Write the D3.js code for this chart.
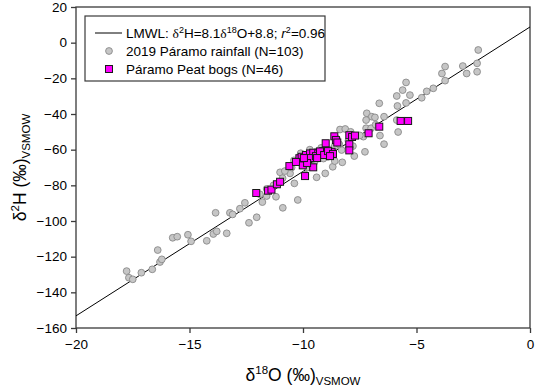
<!DOCTYPE html>
<html>
<head>
<meta charset="utf-8">
<script src="https://cdn.jsdelivr.net/npm/d3@7/dist/d3.min.js"></script>
<style>
  body { margin: 0; background: #fff; }
  text { font-family: Arial, "Liberation Sans", sans-serif; fill: #000; }
</style>
</head>
<body>
<svg id="chart"></svg>
<script>
// 2019 Paramo rainfall samples [d18O, d2H]
const rainfall = [
  [-17.77, -128.1], [-17.67, -131.8], [-17.50, -132.7], [-17.12, -129.0], [-16.64, -127.1],
  [-16.40, -116.3], [-16.30, -123.0], [-16.22, -121.5], [-15.74, -109.4], [-15.54, -108.8],
  [-15.07, -107.7], [-14.93, -111.4], [-14.24, -111.1], [-13.95, -107.3], [-13.80, -105.8],
  [-13.85, -95.4], [-13.36, -106.9], [-13.22, -95.4], [-13.10, -96.3], [-12.78, -93.1],
  [-12.56, -89.8], [-12.38, -101.0], [-12.04, -97.9], [-11.79, -89.4], [-11.60, -86.0],
  [-11.19, -86.4], [-11.01, -72.7], [-10.89, -92.6], [-10.57, -73.3], [-10.38, -78.9],
  [-10.23, -88.2], [-9.40, -75.5], [-9.02, -73.3], [-8.69, -69.6], [-8.60, -66.4],
  [-8.27, -67.1], [-8.30, -60.2], [-8.37, -48.7], [-8.14, -48.4], [-7.74, -63.6],
  [-7.27, -61.2], [-7.34, -52.7], [-7.22, -48.0], [-7.19, -39.6], [-6.97, -41.5],
  [-6.83, -41.9], [-6.43, -41.5], [-7.22, -43.4], [-5.87, -43.4], [-5.84, -35.5],
  [-5.81, -50.1], [-6.64, -34.0], [-5.46, -33.8], [-6.61, -52.1], [-6.43, -56.9],
  [-4.77, -30.9], [-4.55, -27.3], [-4.26, -25.6], [-5.46, -22.3], [-5.61, -26.6],
  [-5.29, -29.4], [-5.87, -29.9], [-3.74, -13.4], [-3.88, -17.3], [-3.74, -21.3],
  [-2.96, -13.1], [-2.79, -17.3], [-2.28, -4.1], [-2.33, -11.6], [-2.33, -16.3],
  // partly hidden under the peat bog squares
  [-10.4, -66], [-10.1, -62], [-9.9, -66], [-9.7, -60], [-9.6, -64],
  [-9.5, -67], [-9.4, -61], [-9.3, -64], [-9.2, -59], [-9.1, -65],
  [-9.0, -61], [-8.9, -64], [-8.8, -60], [-8.7, -63], [-8.6, -58],
  [-8.5, -54], [-8.4, -57], [-8.0, -55], [-7.9, -50], [-7.8, -58],
  [-10.8, -72], [-10.9, -76], [-11.3, -80], [-11.6, -82], [-11.9, -85],
  [-10.5, -70], [-9.8, -70], [-7.5, -52], [-7.0, -48], [-6.8, -46],
  [-8.6, -53], [-9.9, -74], [-9.6, -69]
];

// Paramo peat bog samples [d18O, d2H]
const peatBogs = [
  [-12.06, -84.3], [-11.54, -83.0], [-11.39, -82.4], [-11.15, -79.4], [-11.01, -78.0],
  [-10.60, -69.2], [-10.16, -64.8], [-9.98, -66.2], [-10.06, -64.0], [-9.87, -63.0],
  [-9.77, -65.4], [-9.69, -62.1], [-9.55, -61.7], [-9.55, -69.9], [-9.33, -62.1],
  [-9.22, -63.0], [-9.11, -60.8], [-8.99, -62.1], [-8.84, -62.6], [-8.74, -61.2],
  [-8.62, -52.5], [-8.55, -54.6], [-8.49, -56.0], [-7.96, -51.9], [-7.96, -57.0],
  [-7.96, -60.4], [-7.84, -52.9], [-7.71, -52.1], [-7.11, -50.8], [-6.64, -47.1],
  [-5.70, -43.9], [-5.37, -43.9], [-9.91, -74.8], [-10.01, -68.8], [-9.00, -56.4],
  [-10.31, -66.9], [-9.65, -64.7], [-9.43, -63.6], [-9.25, -61.0], [-9.07, -63.0],
  [-8.90, -60.8], [-8.68, -62.4], [-9.82, -67.5], [-9.38, -64.7], [-9.96, -64.7],
  [-8.81, -63.6]
];

// Local meteoric water line
const lmwl = { slope: 8.1, intercept: 8.8 };
const lineExtent = [-20, 0];

const xTicks = [-20, -15, -10, -5, 0];
const yTicks = [20, 0, -20, -40, -60, -80, -100, -120, -140, -160];

class IsotopeVis {

  constructor(_config) {
    this.config = {
      parentElement: _config.parentElement,
      containerWidth: _config.containerWidth || 536,
      containerHeight: _config.containerHeight || 387,
      margin: _config.margin || { top: 7, right: 6, bottom: 59, left: 76 }
    }

    this.width = this.config.containerWidth - this.config.margin.left - this.config.margin.right;
    this.height = this.config.containerHeight - this.config.margin.top - this.config.margin.bottom;
  }

  initVis() {
    let vis = this;

    vis.svg = d3.select(vis.config.parentElement)
        .attr('width', vis.config.containerWidth)
        .attr('height', vis.config.containerHeight);

    vis.chart = vis.svg.append('g')
        .attr('transform', `translate(${vis.config.margin.left},${vis.config.margin.top})`);

    vis.xScale = d3.scaleLinear()
        .domain([-20, 0])
        .range([0, vis.width]);

    vis.yScale = d3.scaleLinear()
        .domain([-160, 20])
        .range([vis.height, 0]);

    // Axes, ticks pointing outwards
    vis.xAxis = d3.axisBottom(vis.xScale)
        .tickValues(xTicks)
        .tickSize(5)
        .tickPadding(6);

    vis.yAxis = d3.axisLeft(vis.yScale)
        .tickValues(yTicks)
        .tickSize(5)
        .tickPadding(4);

    vis.xAxisG = vis.chart.append('g')
        .attr('transform', `translate(0,${vis.height})`)
        .call(vis.xAxis);

    vis.yAxisG = vis.chart.append('g')
        .call(vis.yAxis);

    [vis.xAxisG, vis.yAxisG].forEach(g => {
      g.select('.domain').remove();
      g.selectAll('line').attr('stroke', '#3a3a3a').attr('stroke-width', 1.3);
      g.selectAll('text')
          .attr('font-size', 13.5)
          .attr('font-family', 'Arial, "Liberation Sans", sans-serif')
          .attr('fill', '#000');
    });

    // Plot frame
    vis.chart.append('rect')
        .attr('width', vis.width)
        .attr('height', vis.height)
        .attr('fill', 'none')
        .attr('stroke', '#3a3a3a')
        .attr('stroke-width', 1.3);

    // X axis title
    let xt = vis.chart.append('text')
        .attr('x', vis.width / 2)
        .attr('y', vis.height + 53)
        .attr('text-anchor', 'middle')
        .attr('font-size', 17.5);
    xt.append('tspan').text('\u03B4');
    xt.append('tspan').attr('font-size', 11.5).attr('dy', -7).text('18');
    xt.append('tspan').attr('dy', 7).text('O (\u2030)');
    xt.append('tspan').attr('font-size', 11.5).attr('dy', 4).text('VSMOW');

    // Y axis title
    let yt = vis.chart.append('text')
        .attr('transform', `translate(${-50},${vis.height / 2}) rotate(-90)`)
        .attr('text-anchor', 'middle')
        .attr('font-size', 17.5);
    yt.append('tspan').text('\u03B4');
    yt.append('tspan').attr('font-size', 11.5).attr('dy', -7).text('2');
    yt.append('tspan').attr('dy', 7).text('H (\u2030)');
    yt.append('tspan').attr('font-size', 11.5).attr('dy', 4).text('VSMOW');

    vis.render();
    vis.createLegend();
  }

  render() {
    let vis = this;

    let plot = vis.chart.append('g');

    // LMWL regression line
    plot.append('path')
        .datum(lineExtent)
        .attr('fill', 'none')
        .attr('stroke', '#000')
        .attr('stroke-width', 1)
        .attr('d', d3.line()
            .x(d => vis.xScale(d))
            .y(d => vis.yScale(lmwl.slope * d + lmwl.intercept)));

    plot.selectAll('.rain')
        .data(rainfall)
      .join('circle')
        .attr('class', 'rain')
        .attr('cx', d => vis.xScale(d[0]))
        .attr('cy', d => vis.yScale(d[1]))
        .attr('r', 3.4)
        .attr('fill', '#c6c6c6')
        .attr('stroke', '#8a8a8a')
        .attr('stroke-width', 0.9);

    let s = 7;
    plot.selectAll('.bog')
        .data(peatBogs)
      .join('rect')
        .attr('class', 'bog')
        .attr('x', d => vis.xScale(d[0]) - s / 2)
        .attr('y', d => vis.yScale(d[1]) - s / 2)
        .attr('width', s)
        .attr('height', s)
        .attr('fill', '#ff00ff')
        .attr('stroke', '#1a1a1a')
        .attr('stroke-width', 1);
  }

  createLegend() {
    let vis = this;

    let lg = vis.svg.append('g')
        .attr('transform', 'translate(85,16)');

    lg.append('rect')
        .attr('width', 240)
        .attr('height', 65)
        .attr('fill', '#fff')
        .attr('stroke', '#3a3a3a')
        .attr('stroke-width', 1.2);

    // Row 1: line
    lg.append('line')
        .attr('x1', 10).attr('x2', 37)
        .attr('y1', 17).attr('y2', 17)
        .attr('stroke', '#000')
        .attr('stroke-width', 1);

    let t1 = lg.append('text')
        .attr('x', 41)
        .attr('y', 22)
        .attr('font-size', 13.5);
    t1.append('tspan').text('LMWL: ');
    t1.append('tspan').attr('font-family', '"Liberation Serif", "Times New Roman", serif').text('\u03B4');
    t1.append('tspan').attr('font-size', 9).attr('dy', -5).text('2');
    t1.append('tspan').attr('dy', 5).text('H=8.1');
    t1.append('tspan').attr('font-family', '"Liberation Serif", "Times New Roman", serif').text('\u03B4');
    t1.append('tspan').attr('font-size', 9).attr('dy', -5).text('18');
    t1.append('tspan').attr('dy', 5).text('O+8.8; ');
    t1.append('tspan').attr('font-style', 'italic').text('r');
    t1.append('tspan').attr('font-size', 9).attr('dy', -5).text('2');
    t1.append('tspan').attr('dy', 5).text('=0.96');

    // Row 2: rainfall
    lg.append('circle')
        .attr('cx', 24).attr('cy', 35)
        .attr('r', 3.4)
        .attr('fill', '#c6c6c6')
        .attr('stroke', '#8a8a8a')
        .attr('stroke-width', 0.9);

    lg.append('text')
        .attr('x', 41)
        .attr('y', 40)
        .attr('font-size', 13.5)
        .text('2019 P\u00E1ramo rainfall (N=103)');

    // Row 3: peat bogs
    lg.append('rect')
        .attr('x', 20.5).attr('y', 49.5)
        .attr('width', 7).attr('height', 7)
        .attr('fill', '#ff00ff')
        .attr('stroke', '#1a1a1a')
        .attr('stroke-width', 1);

    lg.append('text')
        .attr('x', 41)
        .attr('y', 57.5)
        .attr('font-size', 13.5)
        .text('P\u00E1ramo Peat bogs (N=46)');
  }
}

let isoVis = new IsotopeVis({ parentElement: '#chart' });
isoVis.initVis();
</script>
</body>
</html>
